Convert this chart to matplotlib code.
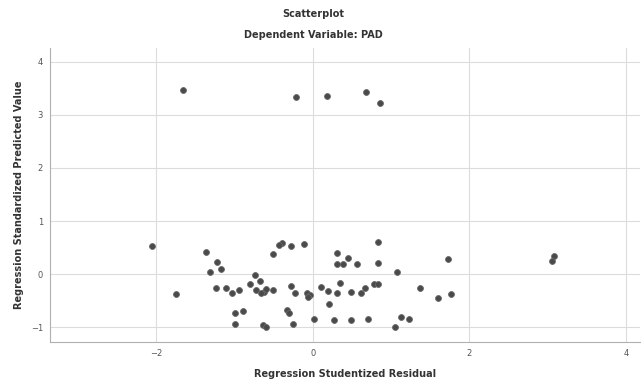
import numpy as np
import matplotlib
matplotlib.use('Agg')
import matplotlib.pyplot as plt

#studentized residuals (x) and standardized predicted values (y)
residual = [-1.66, -0.22, 0.18, 0.68, 0.86,
	-2.06, -1.37, -1.22, -1.17, -1.32, -1.75, -1.24, -1.11, -1.03, -0.95,
	-1.00, -0.89, -1.00, -0.74, -0.80,
	-0.39, -0.28, -0.11, -0.51, -0.68, -0.73, -0.63, -0.60, -0.51, -0.66,
	-0.28, -0.23, -0.07, -0.04, -0.06, 0.10, 0.19, 0.31, 0.34, 0.20,
	-0.33, -0.31, -0.64, -0.60, -0.26, 0.01, 0.27, 0.49, 0.70,
	0.31, 0.45, 0.31, 0.38, 0.56, 0.83, 0.83, 0.49, 0.62, 0.66, 0.78, 0.83,
	1.08, 1.73, 1.37, 1.60, 1.76, 1.13, 1.23, 1.05,
	3.08, 3.06, -0.43]
predicted = [3.47, 3.33, 3.36, 3.44, 3.23,
	0.53, 0.42, 0.22, 0.09, 0.03, -0.38, -0.26, -0.26, -0.35, -0.30,
	-0.73, -0.70, -0.95, -0.01, -0.18,
	0.59, 0.53, 0.57, 0.38, -0.13, -0.30, -0.33, -0.29, -0.30, -0.36,
	-0.22, -0.35, -0.35, -0.40, -0.43, -0.25, -0.31, -0.36, -0.16, -0.57,
	-0.68, -0.74, -0.96, -0.99, -0.95, -0.84, -0.87, -0.87, -0.84,
	0.40, 0.31, 0.19, 0.19, 0.19, 0.61, 0.20, -0.33, -0.35, -0.26, -0.19, -0.19,
	0.04, 0.28, -0.27, -0.46, -0.38, -0.81, -0.85, -0.99,
	0.34, 0.25, 0.55]

xTicks = [-2, 0, 2, 4]
yTicks = [-1, 0, 1, 2, 3, 4]

fig = plt.figure(figsize=(6.43, 3.83), dpi=100)
ax = fig.add_axes([50/643., 1-342/383., 590/643., 294/383.])

ax.scatter(residual, predicted, s=18, color='#4a4a4a', edgecolor='#6a6a6a', linewidth=0.6, zorder=3)

ax.set_xlim(-3.36, 4.18)
ax.set_ylim(-1.28, 4.26)
ax.set_xticks(xTicks)
ax.set_yticks(yTicks)
ax.grid(True, color='#dcdcdc', linewidth=0.8)
ax.set_axisbelow(True)
for side in ['top', 'right']:
	ax.spines[side].set_visible(False)
for side in ['left', 'bottom']:
	ax.spines[side].set_color('#b0b0b0')
ax.tick_params(length=0, labelsize=6, colors='#555555', pad=5)

ax.set_xlabel('Regression Studentized Residual', fontsize=7, fontweight='bold', color='#333333', labelpad=8)
ax.set_ylabel('Regression Standardized Predicted Value', fontsize=7, fontweight='bold', color='#333333', labelpad=5)

fig.text(313/643., 1-14/383., 'Scatterplot', ha='center', va='center', fontsize=7, fontweight='bold', color='#333333')
fig.text(313/643., 1-35/383., 'Dependent Variable: PAD', ha='center', va='center', fontsize=7, fontweight='bold', color='#333333')

plt.savefig('out.png', dpi=100)
